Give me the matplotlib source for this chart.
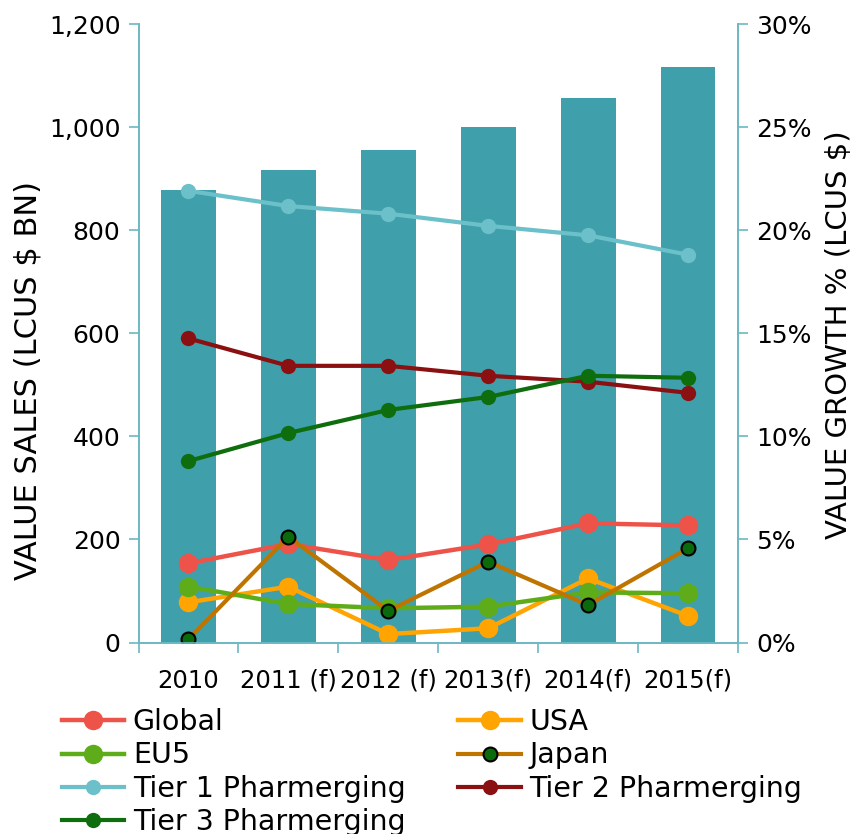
import matplotlib
matplotlib.use('Agg')
import matplotlib.pyplot as plt
from matplotlib.ticker import FuncFormatter, FixedLocator
import numpy as np

years = ['2010', '2011 (f)', '2012 (f)', '2013(f)', '2014(f)', '2015(f)']
sales = [877, 917, 956, 1001, 1057, 1117]

growth_global = [3.84, 4.78, 4.00, 4.76, 5.78, 5.68]
growth_usa = [1.95, 2.71, 0.41, 0.69, 3.11, 1.29]
growth_eu5 = [2.71, 1.87, 1.66, 1.74, 2.43, 2.39]
growth_japan = [0.16, 5.13, 1.54, 3.92, 1.82, 4.57]
growth_tier1 = [21.91, 21.17, 20.80, 20.21, 19.75, 18.81]
growth_tier2 = [14.75, 13.42, 13.42, 12.94, 12.65, 12.11]
growth_tier3 = [8.80, 10.16, 11.28, 11.91, 12.94, 12.84]

bar_color = '#3F9FAB'
axis_color = '#6BB8C2'

fig = plt.figure(figsize=(8.56, 8.34), dpi=100)
ax = fig.add_axes([0.1618, 0.2296, 0.7003, 0.7416])
ax2 = ax.twinx()

x = np.arange(len(years))
ax.bar(x, sales, width=0.55, color=bar_color, zorder=2)
ax.set_xlim(-0.5, 5.5)
ax.set_ylim(0, 1200)
ax.set_yticks([0, 200, 400, 600, 800, 1000, 1200])
ax.yaxis.set_major_formatter(FuncFormatter(lambda v, p: '{:,.0f}'.format(v)))

# tick marks between categories, labels at category centres
ax.xaxis.set_major_locator(FixedLocator(np.arange(-0.5, 6.0, 1.0)))
ax.xaxis.set_minor_locator(FixedLocator(x))
ax.set_xticklabels([], minor=False)
ax.set_xticklabels(years, minor=True)
ax.tick_params(axis='x', which='major', length=7, width=1.2, color=axis_color)
ax.tick_params(axis='x', which='minor', length=0, pad=19, labelsize=17.5)
ax.tick_params(axis='y', length=7, width=1.2, color=axis_color, labelsize=18, pad=6)

series = [
    ('Global', growth_global, '#EE5349', '#EE5349', 14, 3.2),
    ('USA', growth_usa, '#FFA400', '#FFA400', 14, 3.2),
    ('EU5', growth_eu5, '#5EAC1A', '#5EAC1A', 14, 3.2),
    ('Japan', growth_japan, '#C07400', '#0B6A0B', 10, 3.0),
    ('Tier 1 Pharmerging', growth_tier1, '#6CC0CA', '#6CC0CA', 11, 3.0),
    ('Tier 2 Pharmerging', growth_tier2, '#8B1011', '#8B1011', 11, 3.0),
    ('Tier 3 Pharmerging', growth_tier3, '#0E6E0E', '#0E6E0E', 11, 3.0),
]
handles = {}
for label, vals, lc, mc, ms, lw in series:
    edge = 'black' if label == 'Japan' else mc
    h, = ax2.plot(x, vals, color=lc, linewidth=lw, marker='o', markersize=ms,
                  markerfacecolor=mc, markeredgecolor=edge,
                  markeredgewidth=1.5 if label == 'Japan' else 0, label=label)
    handles[label] = h

ax2.set_ylim(0, 30)
ax2.set_yticks([0, 5, 10, 15, 20, 25, 30])
ax2.yaxis.set_major_formatter(FuncFormatter(lambda v, p: '{:.0f}%'.format(v)))
ax2.tick_params(axis='y', length=7, width=1.2, color=axis_color, labelsize=18, pad=6)

for a in (ax, ax2):
    a.spines['top'].set_visible(False)
    for s in ('left', 'right', 'bottom'):
        a.spines[s].set_color(axis_color)
        a.spines[s].set_linewidth(1.2)

ax.set_ylabel('VALUE SALES (LCUS $ BN)', fontsize=22)
ax.yaxis.set_label_coords(-0.16, 0.423)
ax2.set_ylabel('VALUE GROWTH % (LCUS $)', fontsize=21)
ax2.yaxis.set_label_coords(1.145, 0.497)

order = ['Global', 'EU5', 'Tier 1 Pharmerging', 'Tier 3 Pharmerging',
         'USA', 'Japan', 'Tier 2 Pharmerging']
fig.legend([handles[k] for k in order], order, ncol=2, loc='upper left',
           bbox_to_anchor=(0.072, 0.151), frameon=False, fontsize=20.5,
           handlelength=2.2, handletextpad=0.3, labelspacing=0.19,
           columnspacing=1.85, borderpad=0, borderaxespad=0)

plt.savefig('out.png', dpi=100)
